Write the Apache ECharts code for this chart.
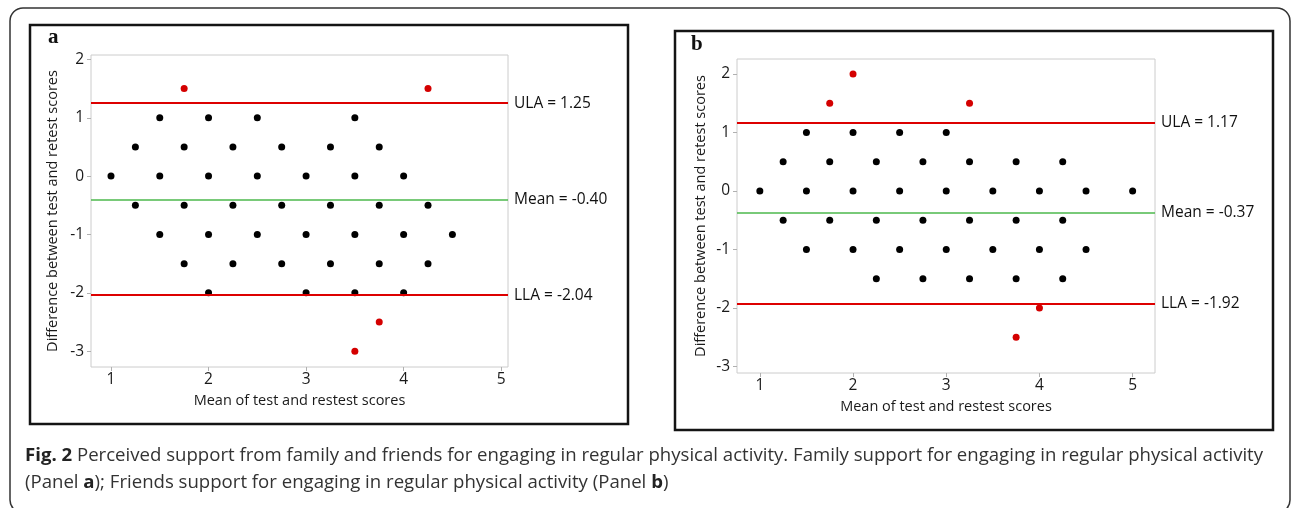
<!DOCTYPE html>
<html>
<head>
<meta charset="utf-8">
<script src="https://cdn.jsdelivr.net/npm/echarts@6/dist/echarts.min.js"></script>
<style>
html,body{margin:0;padding:0;background:#fff;}
#c{width:1292px;height:508px;}
</style>
</head>
<body>
<div id="c"></div>
<script>
// ---- Data ----
const xTicks = [1, 2, 3, 4, 5];
const yTicks = [-3, -2, -1, 0, 1, 2];
const limitNames = ['ULA', 'Mean', 'LLA'];

// Panel a: family support
const panelA_black = [
  [1.5,1],[2,1],[2.5,1],[3.5,1],
  [1.25,0.5],[1.75,0.5],[2.25,0.5],[2.75,0.5],[3.25,0.5],[3.75,0.5],
  [1,0],[1.5,0],[2,0],[2.5,0],[3,0],[3.5,0],[4,0],
  [1.25,-0.5],[1.75,-0.5],[2.25,-0.5],[2.75,-0.5],[3.25,-0.5],[3.75,-0.5],[4.25,-0.5],
  [1.5,-1],[2,-1],[2.5,-1],[3,-1],[3.5,-1],[4,-1],[4.5,-1],
  [1.75,-1.5],[2.25,-1.5],[2.75,-1.5],[3.25,-1.5],[3.75,-1.5],[4.25,-1.5],
  [2,-2],[3,-2],[3.5,-2],[4,-2]
];
const panelA_red = [[1.75,1.5],[4.25,1.5],[3.75,-2.5],[3.5,-3]];
const panelA_limits = [1.25, -0.40, -2.04];

// Panel b: friends support
const panelB_black = [
  [1.5,1],[2,1],[2.5,1],[3,1],
  [1.25,0.5],[1.75,0.5],[2.25,0.5],[2.75,0.5],[3.25,0.5],[3.75,0.5],[4.25,0.5],
  [1,0],[1.5,0],[2,0],[2.5,0],[3,0],[3.5,0],[4,0],[4.5,0],[5,0],
  [1.25,-0.5],[1.75,-0.5],[2.25,-0.5],[2.75,-0.5],[3.25,-0.5],[3.75,-0.5],[4.25,-0.5],
  [1.5,-1],[2,-1],[2.5,-1],[3,-1],[3.5,-1],[4,-1],[4.5,-1],
  [2.25,-1.5],[2.75,-1.5],[3.25,-1.5],[3.75,-1.5],[4.25,-1.5]
];
const panelB_red = [[1.75,1.5],[2,2],[3.25,1.5],[4,-2],[3.75,-2.5]];
const panelB_limits = [1.17, -0.37, -1.92];

const xTitle = 'Mean of test and restest scores';
const yTitle = 'Difference between test and retest scores';
const captionBold = 'Fig. 2';
const captionLine1 = ' Perceived support from family and friends for engaging in regular physical activity. Family support for engaging in regular physical activity';

// ---- Chart ----
const FONT = '"Open Sans", "Noto Sans", sans-serif';
const chart = echarts.init(document.getElementById('c'), null, {renderer: 'canvas'});

function xAxis(idx, min, max) {
  return {
    gridIndex: idx, type: 'value', min: min, max: max,
    name: xTitle, nameLocation: 'middle', nameGap: 21,
    nameTextStyle: {fontFamily: FONT, fontSize: 14.5, color: '#1a1a1a'},
    axisLine: {show: false, onZero: false},
    axisTick: {show: true, length: 4, lineStyle: {color: '#b0b0b0'}, customValues: xTicks},
    axisLabel: {fontFamily: FONT, fontSize: 15.5, color: '#1a1a1a', margin: 5, customValues: xTicks},
    splitLine: {show: false}
  };
}
function yAxis(idx, min, max, gap) {
  return {
    gridIndex: idx, type: 'value', min: min, max: max,
    name: yTitle, nameLocation: 'middle', nameGap: gap, nameRotate: 90,
    nameTextStyle: {fontFamily: FONT, fontSize: 14.5, color: '#1a1a1a'},
    axisLine: {show: false, onZero: false},
    axisTick: {show: true, length: 4, lineStyle: {color: '#b0b0b0'}, customValues: yTicks},
    axisLabel: {fontFamily: FONT, fontSize: 15.5, color: '#1a1a1a', margin: 7, customValues: yTicks},
    splitLine: {show: false}
  };
}
function limitLines(vals) {
  return {
    silent: true, symbol: ['none', 'none'],
    data: vals.map((v, i) => ({
      yAxis: v,
      lineStyle: {type: 'solid', color: i === 1 ? '#4cb84c' : '#dd0000', width: i === 1 ? 1.5 : 2.2},
      label: {
        show: true, position: 'end', distance: 6,
        formatter: limitNames[i] + ' = ' + v.toFixed(2),
        fontFamily: FONT, fontSize: 15.5, color: '#111'
      }
    }))
  };
}
function scatter(idx, data, color, ml) {
  const s = {
    type: 'scatter', xAxisIndex: idx, yAxisIndex: idx, data: data,
    symbol: 'circle', symbolSize: 7, itemStyle: {color: color, opacity: 1}, silent: true, z: 3
  };
  if (ml) s.markLine = ml;
  return s;
}

const rich = {
  b: {fontFamily: FONT, fontWeight: 'bold', fontSize: 18.6, fill: '#222', color: '#222'},
  r: {fontFamily: FONT, fontSize: 18.6, fill: '#333', color: '#333'}
};

chart.setOption({
  animation: false,
  backgroundColor: '#fff',
  grid: [
    {left: 91, top: 55, width: 417, height: 312, show: true, borderColor: '#cccccc', borderWidth: 1, backgroundColor: '#fff'},
    {left: 737, top: 59, width: 418, height: 314, show: true, borderColor: '#cccccc', borderWidth: 1, backgroundColor: '#fff'}
  ],
  xAxis: [xAxis(0, 0.795, 5.07), xAxis(1, 0.755, 5.24)],
  yAxis: [yAxis(0, -3.27, 2.075, 31), yAxis(1, -3.11, 2.255, 29)],
  series: [
    scatter(0, panelA_black, '#000', limitLines(panelA_limits)),
    scatter(0, panelA_red, '#d40000'),
    scatter(1, panelB_black, '#000', limitLines(panelB_limits)),
    scatter(1, panelB_red, '#d40000')
  ],
  graphic: [
    {type: 'rect', shape: {x: 10, y: 8, width: 1280, height: 505, r: 13}, style: {fill: 'none', stroke: '#333', lineWidth: 1.5}, z: -10},
    {type: 'rect', shape: {x: 30, y: 25, width: 598, height: 399}, style: {fill: 'none', stroke: '#141414', lineWidth: 2.5}, z: 10},
    {type: 'rect', shape: {x: 675, y: 31, width: 598, height: 399}, style: {fill: 'none', stroke: '#141414', lineWidth: 2.5}, z: 10},
    {type: 'text', left: 48, top: 27, style: {text: 'a', font: 'bold 21px "Liberation Serif", serif', fill: '#111'}, z: 10},
    {type: 'text', left: 691, top: 34, style: {text: 'b', font: 'bold 21px "Liberation Serif", serif', fill: '#111'}, z: 10},
    {type: 'text', left: 25, top: 446, z: 10, style: {
      text: '{b|' + captionBold + '}{r|' + captionLine1 + '}', rich: rich
    }},
    {type: 'text', left: 25, top: 473, z: 10, style: {
      text: '{r|(Panel }{b|a}{r|); Friends support for engaging in regular physical activity (Panel }{b|b}{r|)}', rich: rich
    }}
  ]
});
</script>
</body>
</html>
